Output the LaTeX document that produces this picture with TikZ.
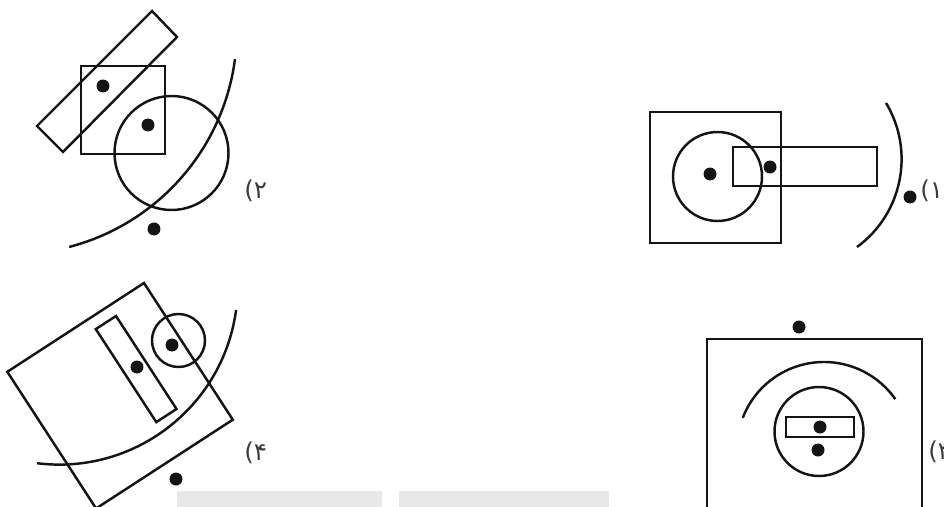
\documentclass[tikz,border=0pt]{standalone}
\usepackage{fontspec}
\newfontfamily\arabicfont[Script=Arabic]{DejaVu Sans}
\TeXXeTstate=1
\usetikzlibrary{positioning}
\definecolor{ink}{RGB}{20,20,20}
\definecolor{cL}{RGB}{60,60,60}
\definecolor{cBar}{RGB}{232,232,232}

\begin{document}
\begin{tikzpicture}[x=0.02cm, y=-0.02cm,
fig/.style={draw=ink, line width=1.4pt},
dot/.style={circle, fill=ink, inner sep=0pt, minimum size=0.26cm},
lbl/.style={anchor=west, inner sep=0pt, text=cL, font=\arabicfont\fontsize{14}{15}\selectfont},
bar/.style={fill=cBar, draw=none}]

\useasboundingbox (0,0) rectangle (944,507);
\clip (0,0) rectangle (944,507);

% (2) top left
\draw[fig] (152,11) -- (177,37) -- (63,152) -- (37,126) -- cycle;
\draw[fig] (81,66) rectangle (165,154);
\draw[fig] (171.5,153) circle (57);
\coordinate (c2) at (12.6,29.9);
\draw[fig] (c2) ++(75.4:224.3) arc[start angle=75.4, end angle=7.5, radius=224.3];
\node[dot] (p2a) at (103,86) {};
\node[dot] (p2b) at (148,125) {};
\node[dot] (p2c) at (154,229) {};
\node[lbl] (n2) at (244,191) {\beginR ۲)\endR};

% (1) top right
\draw[fig] (650,112) rectangle (781,243);
\draw[fig] (717.5,176.5) circle (44.5);
\draw[fig] (733,147) rectangle (877,186);
\coordinate (c1) at (792.6,159.1);
\draw[fig] (c1) ++(-31:109) arc[start angle=-31, end angle=53.8, radius=109];
\node[dot] (p1a) at (710,174) {};
\node[dot] (p1b) at (770,167) {};
\node[dot] (p1c) at (910,197) {};
\node[lbl] (n1) at (920,191) {\beginR ۱)\endR};

% (4) bottom left
\draw[fig] (144,283) -- (232.8,419.7) -- (96.1,508.5) -- (7.3,371.8) -- cycle;
\draw[fig] (116,316) -- (176.5,409) -- (156.3,422.1) -- (95.8,329.1) -- cycle;
\draw[fig] (178.5,340.5) circle (26.5);
\coordinate (c4) at (59.2,286.1);
\draw[fig] (c4) ++(97.1:178.5) arc[start angle=97.1, end angle=7.7, radius=178.5];
\node[dot] (p4a) at (172,345) {};
\node[dot] (p4b) at (137,367) {};
\node[dot] (p4c) at (176,479) {};
\node[lbl] (n4) at (244,453) {\beginR ۴)\endR};

% (3) bottom right
\draw[fig] (707,530) -- (707,339) -- (922,339) -- (922,530);
\draw[fig] (819,431.5) circle (44.5);
\draw[fig] (786,417) rectangle (854,437);
\coordinate (c3) at (824,449);
\draw[fig] (c3) ++(201:87) arc[start angle=201, end angle=325, radius=87];
\node[dot] (p3a) at (799,327) {};
\node[dot] (p3b) at (820,427) {};
\node[dot] (p3c) at (818,450) {};
\node[lbl] (n3) at (928,452) {\beginR ۳)\endR};

\path[bar] (177,491) rectangle (382,510);
\path[bar] (399,491) rectangle (609,510);
\end{tikzpicture}
\end{document}
